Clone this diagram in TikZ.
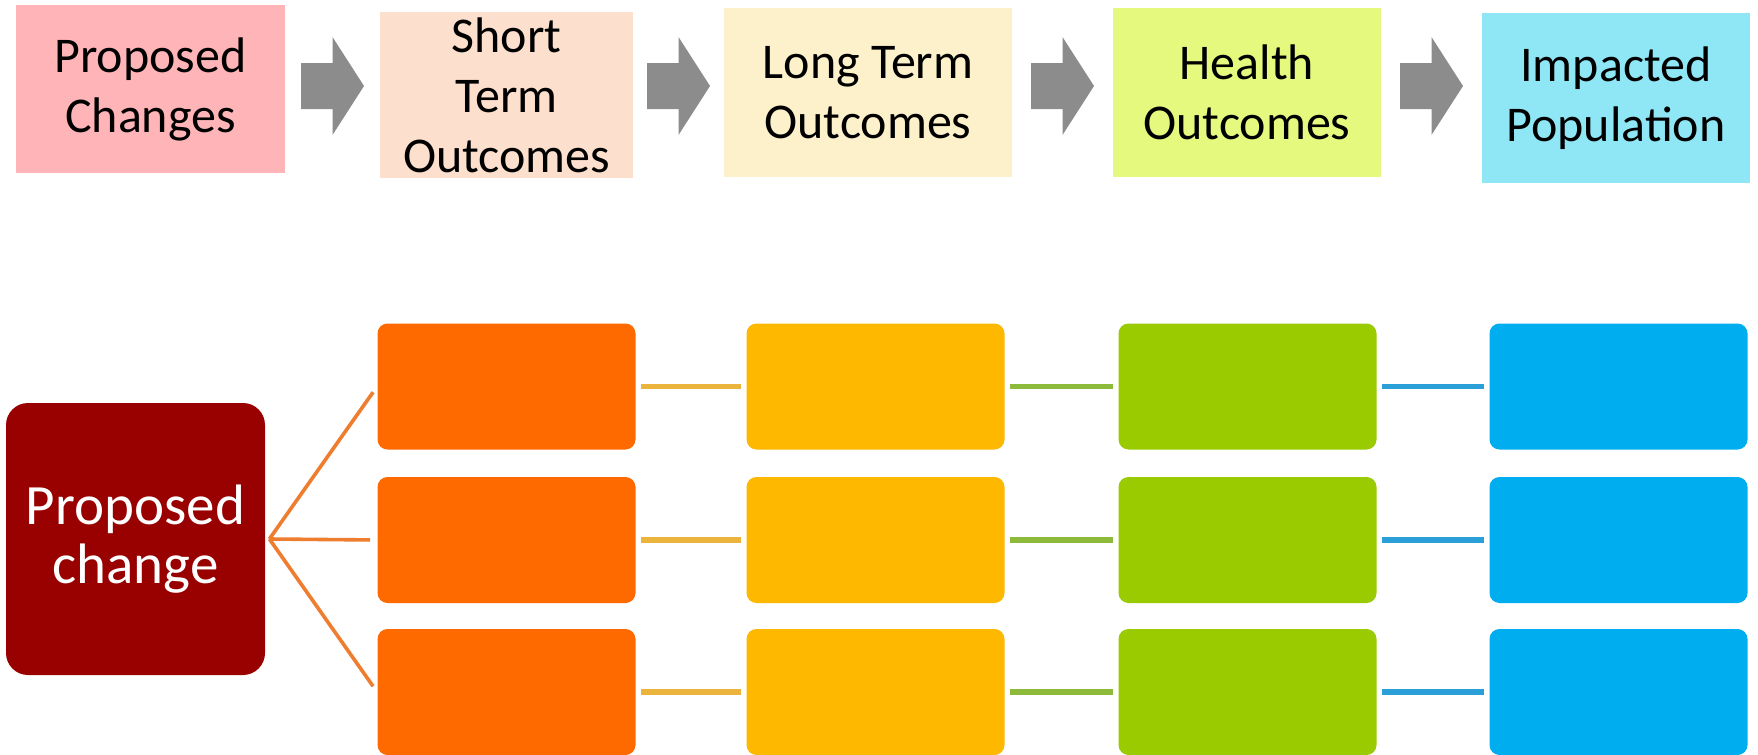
\documentclass[tikz,border=0pt]{standalone}
\usepackage{fontspec}
\setmainfont{Carlito}
\usetikzlibrary{calc}
\definecolor{cPink}{HTML}{FFB5B8}
\definecolor{cPeach}{HTML}{FCDFCC}
\definecolor{cCream}{HTML}{FDF1CB}
\definecolor{cLime}{HTML}{E4F97E}
\definecolor{cCyan}{HTML}{8FE7F6}
\definecolor{cGray}{HTML}{8C8C8C}
\definecolor{cRed}{HTML}{990000}
\definecolor{cOrange}{HTML}{FF6A00}
\definecolor{cYellow}{HTML}{FFB800}
\definecolor{cGreen}{HTML}{99CB00}
\definecolor{cBlue}{HTML}{00AEEF}
\definecolor{lOrange}{HTML}{EE7D2F}
\definecolor{lYellow}{HTML}{EBB43C}
\definecolor{lGreen}{HTML}{8DBA3A}
\definecolor{lBlue}{HTML}{2A9FD8}
\begin{document}
\begin{tikzpicture}[x=0.5pt,y=-0.5pt,
  topbox/.style={rectangle, inner sep=0pt, text=black, align=center,
    font=\fontsize{25}{30}\selectfont},
  rootbox/.style={rectangle, rounded corners=11pt, inner sep=0pt, fill=cRed,
    text=white, align=center, minimum width=129.5pt, minimum height=136pt,
    font=\fontsize{28.5}{29.5}\selectfont},
  gbox/.style={rectangle, rounded corners=5pt, inner sep=0pt,
    minimum width=129pt, minimum height=63pt},
  fanline/.style={line width=1.8pt, draw=lOrange, shorten >=3.5pt},
  rowlink/.style={line width=2.8pt, shorten >=2.5pt, shorten <=2.5pt},
  blockarrow/.pic={\fill[cGray] (-31.5,-23) -- (0,-23) -- (0,-49) -- (31.5,0)
    -- (0,49) -- (0,23) -- (-31.5,23) -- cycle;}
]
\useasboundingbox[fill=white] (0,0) rectangle (1758,755);

% top row
\node[topbox, fill=cPink,  minimum width=134.5pt, minimum height=84pt]   (t1) at (150.5,89) {Proposed\\Changes};
\node[topbox, fill=cPeach, minimum width=126.5pt, minimum height=83pt]   (t2) at (506.5,95) {Short\\Term\\Outcomes};
\node[topbox, fill=cCream, minimum width=144pt,   minimum height=84.5pt] (t3) at (868,92.5) {Long Term\\Outcomes};
\node[topbox, fill=cLime,  minimum width=134pt,   minimum height=84.5pt] (t4) at (1247,92.5) {Health\\Outcomes};
\node[topbox, fill=cCyan,  minimum width=134pt,   minimum height=85pt]   (t5) at (1616,98) {Impacted\\Population};

\coordinate (a1) at ($(t1.east)!0.5!(t2.west)$);
\coordinate (a2) at ($(t2.east)!0.5!(t3.west)$);
\coordinate (a3) at ($(t3.east)!0.5!(t4.west)$);
\coordinate (a4) at ($(t4.east)!0.5!(t5.west)$);
\foreach \a in {a1,a2,a3,a4} {
  \pic at (\a |- 0,86) {blockarrow};
}

% bottom part
\node[rootbox] (root) at (135.5,539) {Proposed\\change};
\coordinate (fan) at ($(root.east)+(4,0)$);

\foreach \r/\cy in {1/386.5,2/540,3/692} {
  \node[gbox, fill=cOrange] (o\r) at (506.5,\cy) {};
  \node[gbox, fill=cYellow] (y\r) at (875.5,\cy) {};
  \node[gbox, fill=cGreen]  (g\r) at (1247.5,\cy) {};
  \node[gbox, fill=cBlue]   (b\r) at (1618.5,\cy) {};
  \draw[fanline] (fan) -- (o\r.west);
  \draw[rowlink, draw=lYellow] (o\r.east) -- (y\r.west);
  \draw[rowlink, draw=lGreen]  (y\r.east) -- (g\r.west);
  \draw[rowlink, draw=lBlue]   (g\r.east) -- (b\r.west);
}
\end{tikzpicture}
\end{document}
